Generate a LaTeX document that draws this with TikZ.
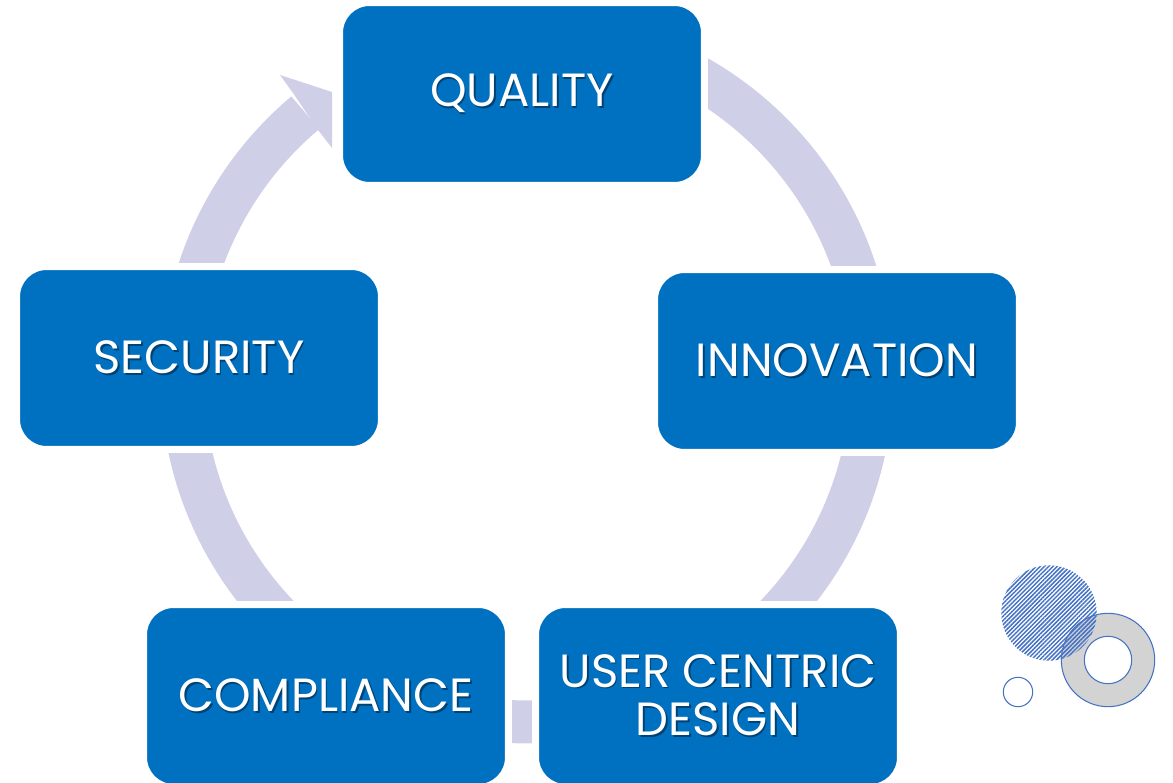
\documentclass[tikz,border=0pt]{standalone}
\usepackage{fontspec}
\setmainfont{Poppins}
\usetikzlibrary{positioning,calc,patterns.meta}
\definecolor{boxblue}{RGB}{0,112,192}
\definecolor{ringlav}{RGB}{207,207,232}
\definecolor{decoblue}{RGB}{68,114,196}
\definecolor{decogray}{RGB}{211,211,211}
\newcommand\shadowed[1]{\leavevmode\rlap{\kern0.9pt\raisebox{-0.9pt}{\textcolor{black!40!boxblue}{#1}}}#1}

\begin{document}
\begin{tikzpicture}[x=0.02cm, y=0.02cm,
    stagebox/.style={rectangle, rounded corners=0.6cm, fill=boxblue, draw=white,
        line width=0.14cm, minimum width=7.3cm, minimum height=3.66cm,
        text=white, font=\fontsize{26.5}{27.5}\selectfont, align=center},
    ringband/.style={ringlav, line width=0.86cm},
    deco/.style={draw=decoblue, line width=0.6pt}]
    \useasboundingbox (0,0) rectangle (1173,-783);
    \coordinate (c) at (527,-377);

    % Cycle band with its head
    \draw[ringband] ($(c)+(90:6.9cm)$) arc[start angle=90, end angle=-230, radius=6.9cm];
    \fill[ringlav] (293,-93) -- (280,-75) -- (332,-92) -- (332,-148) -- (318,-130) -- cycle;

    % Stages
    \node[stagebox] (quality) at (522,-94) {\shadowed{QUALITY}};
    \node[stagebox] (innovation) at (837,-361) {\shadowed{INNOVATION}};
    \node[stagebox] (design) at (718,-696) {\shadowed{USER CENTRIC}\\\shadowed{DESIGN}};
    \node[stagebox] (compliance) at (326,-696) {\shadowed{COMPLIANCE}};
    \node[stagebox] (security) at (199,-358) {\shadowed{SECURITY}};

    % Corner decoration
    \filldraw[deco, fill=decogray, even odd rule] (1108,-660) circle[radius=0.934cm]
        (1108,-660) circle[radius=0.474cm];
    \fill[pattern={Lines[angle=45, distance=1.7pt, line width=0.85pt]}, pattern color=decoblue]
        (1049,-613) circle[radius=0.954cm];
    \draw[deco, fill=white] (1018,-692) circle[radius=0.294cm];
\end{tikzpicture}
\end{document}
